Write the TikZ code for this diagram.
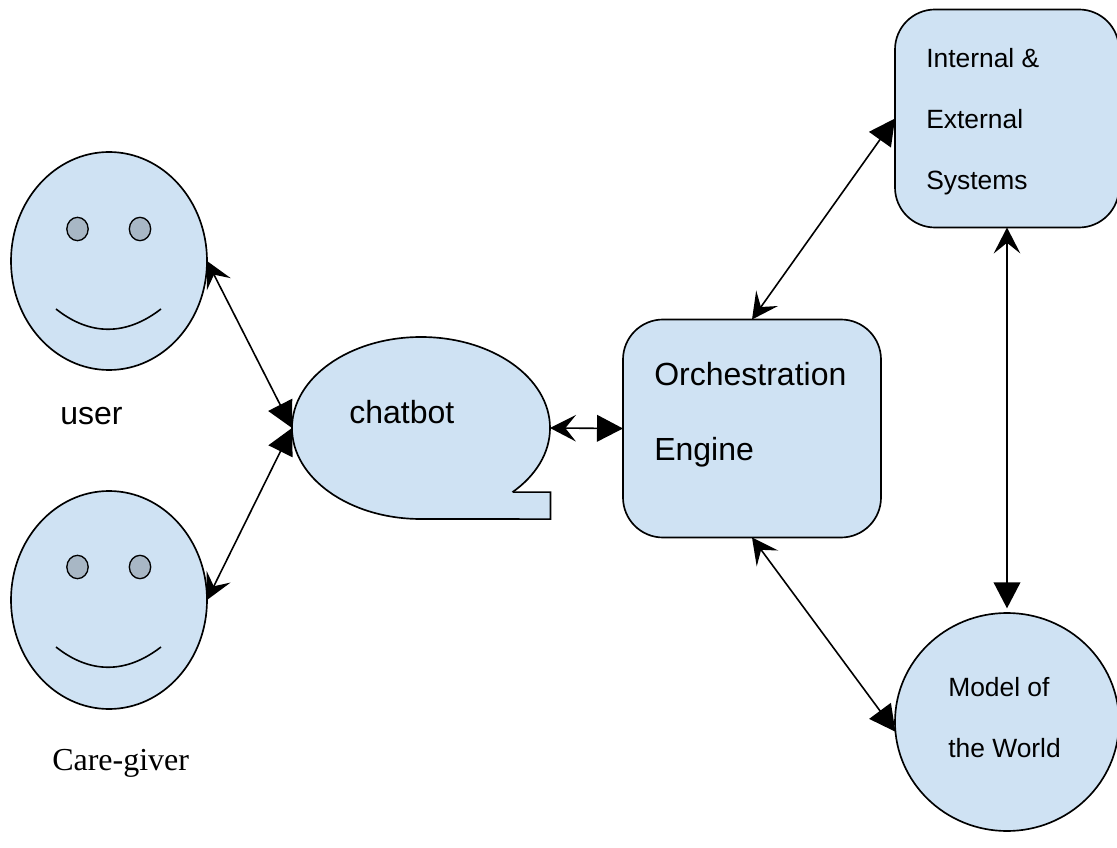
\documentclass[tikz,border=0pt]{standalone}
\usepackage{xcolor}
\usepackage{fontspec}
\setmainfont{Liberation Sans}
\newfontfamily\serifcap{Liberation Serif}
\usetikzlibrary{shapes.geometric, arrows.meta, positioning}
\definecolor{bubbleblue}{HTML}{CFE2F3}
\definecolor{eyegrey}{HTML}{A8B7C5}
\tikzset{
  face/.style={ellipse, draw=black, line width=1.25pt, fill=bubbleblue, inner sep=0pt, outer sep=0pt, minimum width=147pt, minimum height=163.5pt},
  eye/.style={ellipse, draw=black, line width=1pt, fill=eyegrey, inner sep=0pt, outer sep=0pt, minimum width=16pt, minimum height=17.5pt},
  panel/.style={rectangle, draw=black, line width=1.25pt, fill=bubbleblue, rounded corners=30pt, inner sep=0pt, outer sep=0pt, minimum width=193.5pt, minimum height=163.5pt},
  link/.style={line width=1.2pt, {Stealth[length=19.5pt,width=20pt,inset=8pt]}-{Triangle[length=19.5pt,width=20pt]}},
  biglabel/.style={font=\fontsize{24}{56.25}\selectfont, align=left, inner sep=0pt, anchor=west},
  smalllabel/.style={font=\fontsize{19.8}{45.75}\selectfont, align=left, inner sep=0pt, anchor=west}
}

\begin{document}
\begin{tikzpicture}[x=0.75pt, y=-0.75pt]
  \useasboundingbox (0,0) rectangle (1117,848);

  % User face
  \node[face] (user) at (109,261) {};
  \node[eye] (usereyeL) at (77.5,229) {};
  \node[eye] (usereyeR) at (140,229) {};
  \draw[line width=1.2pt] (56,309) .. controls (90,336) and (126,336) .. (161,309);
  \node[biglabel] (userlabel) at (60,416) {user};

  % Care-giver face
  \node[face] (caregiver) at (109,600) {};
  \node[eye] (careeyeL) at (77.5,567) {};
  \node[eye] (careeyeR) at (140,567) {};
  \draw[line width=1.2pt] (56,647) .. controls (90,674) and (126,674) .. (161,647);
  \node[biglabel, font=\fontsize{24}{24}\serifcap] (carelabel) at (52,763) {Care-giver};

  % Chatbot bubble
  \node[face, minimum width=193.5pt, minimum height=136.5pt] (chatbot) at (421,428) {};
  \fill[bubbleblue] (chatbot.center) -- (chatbot.-35) -- ++(38,0) -- ++(0,27) -- (chatbot.south) -- cycle;
  \draw[line width=1.25pt, line join=miter] (chatbot.-35) -- ++(38,0) -- ++(0,27) -- (chatbot.south);
  \node[biglabel] (chatbotlabel) at (349,412) {chatbot};

  % Orchestration engine
  \node[panel] (engine) at (752,428.5) {};
  \node[biglabel] (enginelabel) at (654,415) {Orchestration\\Engine};

  % Internal and external systems
  \node[panel, minimum width=168pt] (systems) at (1007,118.5) {};
  \node[smalllabel] (systemslabel) at (926,121.5) {Internal \&\\External\\Systems};

  % Model of the world
  \node[face, minimum width=168pt] (world) at (1007,722) {};
  \node[smalllabel] (worldlabel) at (948,718) {Model of\\the World};

  % Connectors
  \draw[link] (user.east) -- (chatbot.west);
  \draw[link] (caregiver.east) -- (chatbot.west);
  \draw[link] (chatbot.east) -- (engine.west);
  \draw[link] (engine.north) -- (systems.west);
  \draw[link] (engine.south) -- (world.185);
  \draw[link, shorten >=3.5pt] (systems.south) -- (world.north);
\end{tikzpicture}
\end{document}
